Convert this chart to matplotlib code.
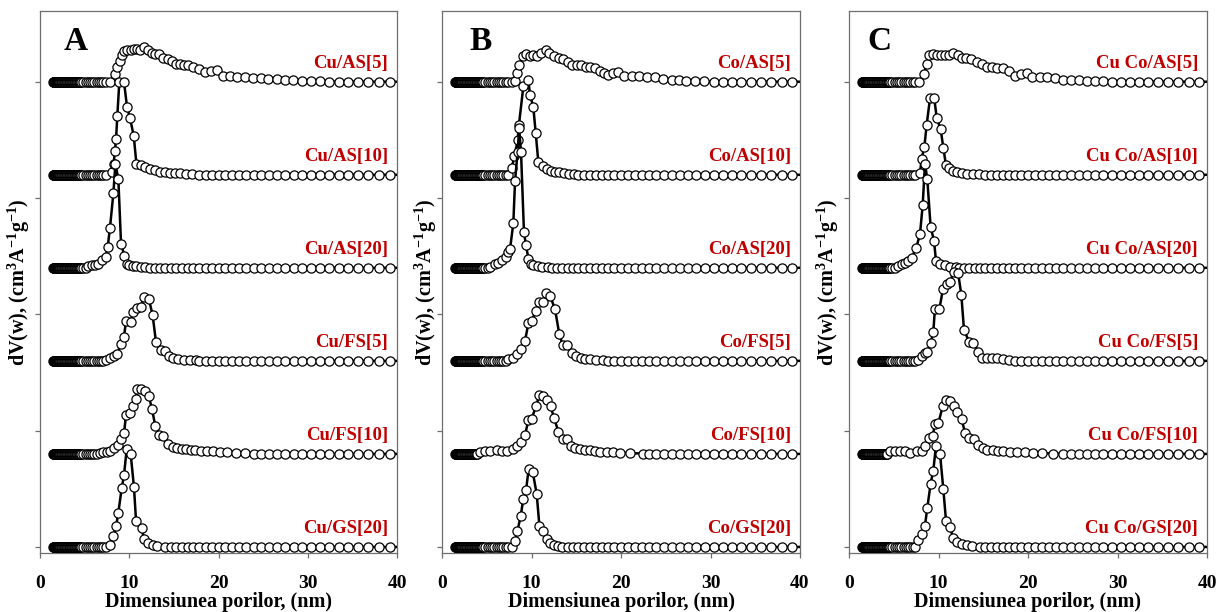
import matplotlib
matplotlib.use("Agg")
import matplotlib.pyplot as plt

plt.rcParams['font.family'] = ['Liberation Serif', 'DejaVu Serif']
plt.rcParams['font.weight'] = 'bold'
plt.rcParams['mathtext.fontset'] = 'custom'
plt.rcParams['mathtext.rm'] = 'Liberation Serif:bold'
plt.rcParams['mathtext.it'] = 'Liberation Serif:bold'
plt.rcParams['mathtext.bf'] = 'Liberation Serif:bold'

# ---------------- data ----------------
# common pore-diameter grid (nm) used for the flat baseline parts
grid_x = [1.50, 1.52, 1.54, 1.56, 1.58, 1.60, 1.62, 1.64, 1.66, 1.68, 1.70, 1.72, 1.74, 1.76,
          1.78, 1.80, 1.82, 1.84, 1.86, 1.88, 1.90, 1.92, 1.94, 1.96, 1.98, 2.00, 2.02, 2.04,
          2.06, 2.08, 2.10, 2.12, 2.14, 2.16, 2.18, 2.20,
          2.28, 2.36, 2.44, 2.52, 2.60, 2.68, 2.76, 2.84, 2.92, 3.00, 3.08, 3.16, 3.24, 3.32,
          3.40, 3.48, 3.56, 3.64, 3.72, 3.80, 3.88, 3.96, 4.04, 4.12, 4.20, 4.28, 4.36, 4.44,
          4.52, 4.60,
          4.85, 5.10, 5.35, 5.60, 5.85, 6.10, 6.35, 6.60, 6.85, 7.10,
          7.43, 7.87, 8.32, 8.78, 9.25, 9.73, 10.22, 10.73, 11.25, 11.78,
          12.32, 12.88, 13.45, 14.04, 14.64, 15.25, 15.88, 16.53, 17.19,
          17.87, 18.56, 19.27, 20.00, 20.75, 21.52, 22.31, 23.12, 23.95,
          24.80, 25.67, 26.56, 27.47, 28.41, 29.37, 30.35, 31.36, 32.39,
          33.45, 34.54, 35.65, 36.79, 37.96, 39.16, 41.00]

panel_letters = ["A", "B", "C"]
labels_A = ["Cu/AS[5]", "Cu/AS[10]", "Cu/AS[20]", "Cu/FS[5]", "Cu/FS[10]", "Cu/GS[20]"]
labels_B = ["Co/AS[5]", "Co/AS[10]", "Co/AS[20]", "Co/FS[5]", "Co/FS[10]", "Co/GS[20]"]
labels_C = ["Cu Co/AS[5]", "Cu Co/AS[10]", "Cu Co/AS[20]", "Cu Co/FS[5]", "Cu Co/FS[10]", "Cu Co/GS[20]"]
offsets = [5, 4, 3, 2, 1, 0]
y_ticks = [0, 1.25, 2.5, 3.75, 5]
x_ticks = [0, 10, 20, 30, 40]

# ---- panel A (peak regions) ----
A_AS5_x = [8.40, 8.66, 8.96, 9.15, 9.41, 9.71, 10.16, 10.53, 10.91, 11.20, 11.65, 12.06, 12.51, 12.92,
           13.37, 13.82, 14.30, 14.75, 15.24, 15.72, 16.17, 16.62, 17.18, 17.85, 18.49, 19.16, 19.83,
           20.47, 21.29, 22.11, 22.97, 23.83, 24.72, 25.58, 26.52, 27.45, 28.39, 29.35, 30.33, 31.34]
A_AS5_y = [0.08, 0.16, 0.22, 0.29, 0.33, 0.34, 0.34, 0.35, 0.35, 0.34, 0.37, 0.34, 0.31, 0.30,
           0.30, 0.26, 0.24, 0.22, 0.19, 0.19, 0.18, 0.18, 0.16, 0.14, 0.10, 0.12, 0.125,
           0.065, 0.057, 0.054, 0.047, 0.036, 0.036, 0.029, 0.025, 0.020, 0.018, 0.012, 0.008, 0.004]
A_AS10_x = [8.05, 8.25, 8.40, 8.52, 8.66, 8.89, 9.41, 9.75, 10.08, 10.50, 10.80, 11.28, 11.76, 12.32,
            12.89, 13.45, 14.00, 14.57, 15.10, 15.70, 16.35, 17.00]
A_AS10_y = [0.03, 0.12, 0.26, 0.38, 0.63, 1.00, 1.00, 0.73, 0.61, 0.42, 0.12, 0.10, 0.083, 0.057,
            0.046, 0.035, 0.028, 0.020, 0.018, 0.014, 0.010, 0.006]
A_AS20_x = [5.40, 5.80, 6.20, 6.54, 6.91, 7.36, 7.58, 7.84, 8.22, 8.45, 8.78, 9.08, 9.45, 9.71,
            10.00, 10.40, 10.80, 11.30, 11.80]
A_AS20_y = [0.02, 0.03, 0.035, 0.04, 0.08, 0.115, 0.22, 0.43, 0.80, 1.12, 0.95, 0.26, 0.13, 0.04,
            0.025, 0.02, 0.015, 0.01, 0.006]
A_FS5_x = [7.40, 7.84, 8.29, 8.66, 9.04, 9.41, 9.64, 10.16, 10.46, 10.83, 11.28, 11.65, 12.20, 12.62,
           13.00, 13.52, 13.97, 14.50, 14.94, 15.50, 16.10, 16.80, 17.50]
A_FS5_y = [0.01, 0.03, 0.047, 0.075, 0.18, 0.26, 0.43, 0.42, 0.53, 0.57, 0.58, 0.69, 0.665, 0.49,
           0.20, 0.12, 0.11, 0.054, 0.03, 0.018, 0.012, 0.008, 0.004]
A_FS10_x = [6.72, 7.10, 7.47, 7.84, 8.29, 8.78, 9.04, 9.41, 9.64, 10.08, 10.46, 10.76, 10.90, 11.35,
            11.76, 12.20, 12.55, 12.92, 13.37, 13.82, 14.38, 14.86, 15.30, 15.87, 16.36, 16.90,
            17.40, 18.00, 18.70, 19.40, 20.20, 21.00, 22.00, 23.00]
A_FS10_y = [0.007, 0.018, 0.025, 0.036, 0.06, 0.097, 0.16, 0.22, 0.42, 0.44, 0.52, 0.59, 0.70, 0.70,
            0.68, 0.62, 0.48, 0.30, 0.20, 0.19, 0.11, 0.072, 0.065, 0.057, 0.05, 0.043,
            0.04, 0.036, 0.032, 0.029, 0.025, 0.02, 0.014, 0.008]
A_GS20_x = [7.84, 8.22, 8.52, 8.78, 9.15, 9.41, 9.71, 10.16, 10.53, 10.76, 11.39, 11.65, 12.14,
            12.62, 13.15]
A_GS20_y = [0.025, 0.115, 0.22, 0.37, 0.63, 0.77, 1.05, 1.00, 0.64, 0.28, 0.20, 0.09, 0.043,
            0.018, 0.007]

# ---- panel B ----
B_AS5_x = [8.16, 8.34, 8.64, 9.09, 9.39, 9.83, 10.20, 10.58, 11.02, 11.62, 12.00, 12.51, 13.03,
           13.56, 14.04, 14.56, 15.05, 15.53, 16.05, 16.53, 17.10, 17.65, 18.14, 18.60, 19.14,
           19.70, 20.30, 21.20, 22.00, 22.90, 23.80, 24.70, 25.70, 26.50, 27.30, 28.30, 29.30]
B_AS5_y = [0.007, 0.097, 0.18, 0.28, 0.30, 0.28, 0.29, 0.28, 0.31, 0.34, 0.31, 0.28, 0.26,
           0.24, 0.21, 0.18, 0.175, 0.175, 0.16, 0.16, 0.147, 0.12, 0.093, 0.068, 0.097,
           0.104, 0.057, 0.057, 0.057, 0.05, 0.05, 0.032, 0.02, 0.014, 0.01, 0.006, 0.003]
B_AS10_x = [7.78, 8.10, 8.45, 8.60, 9.09, 9.65, 9.83, 10.20, 10.47, 10.76, 11.32, 11.70, 12.14,
            12.63, 13.10, 13.63, 14.20, 14.80]
B_AS10_y = [0.07, 0.20, 0.37, 0.54, 0.95, 1.02, 0.86, 0.73, 0.45, 0.14, 0.09, 0.06, 0.043,
            0.032, 0.025, 0.018, 0.012, 0.006]
B_AS20_x = [5.36, 5.92, 6.29, 6.67, 7.15, 7.41, 7.60, 7.97, 8.16, 8.45, 8.62, 8.83, 9.16, 9.39,
            9.65, 9.90, 10.20, 10.70, 11.20, 11.80]
B_AS20_y = [0.007, 0.043, 0.047, 0.079, 0.115, 0.17, 0.20, 0.48, 0.93, 1.25, 1.50, 1.24, 0.38,
            0.24, 0.10, 0.043, 0.025, 0.018, 0.012, 0.006]
B_FS5_x = [7.41, 7.97, 8.42, 8.79, 9.27, 9.65, 10.02, 10.50, 10.87, 11.32, 11.62, 12.07, 12.63,
           13.10, 13.48, 13.93, 14.49, 14.97, 15.50, 16.00, 16.50, 17.20, 18.00]
B_FS5_y = [0.018, 0.036, 0.072, 0.125, 0.21, 0.405, 0.43, 0.54, 0.63, 0.63, 0.73, 0.70, 0.555,
           0.29, 0.17, 0.17, 0.082, 0.047, 0.032, 0.025, 0.018, 0.01, 0.005]
B_FS10_x = [4.25, 4.80, 5.36, 6.10, 6.67, 7.22, 7.97, 8.42, 8.79, 9.27, 9.65, 10.02, 10.50, 10.87,
            11.32, 11.77, 12.14, 12.51, 13.00, 13.48, 13.93, 14.38, 14.86, 15.42, 16.00, 16.50,
            17.10, 17.65, 18.40, 19.10, 19.90, 21.00, 22.50]
B_FS10_y = [0.025, 0.036, 0.036, 0.043, 0.036, 0.036, 0.054, 0.082, 0.13, 0.20, 0.36, 0.38, 0.51,
            0.63, 0.62, 0.58, 0.51, 0.39, 0.24, 0.16, 0.16, 0.082, 0.06, 0.054, 0.047, 0.04,
            0.032, 0.025, 0.02, 0.018, 0.014, 0.008, 0.004]
B_GS20_x = [8.16, 8.42, 8.79, 9.09, 9.39, 9.68, 10.13, 10.58, 10.88, 11.32, 11.70, 12.07, 12.51,
            13.00]
B_GS20_y = [0.06, 0.17, 0.33, 0.52, 0.61, 0.835, 0.81, 0.57, 0.23, 0.17, 0.082, 0.047, 0.025,
            0.014]

# ---- panel C ----
C_AS5_x = [8.38, 8.68, 8.98, 9.42, 9.80, 10.24, 10.73, 11.21, 11.66, 12.14, 12.59, 13.07, 13.60,
           14.26, 14.82, 15.38, 15.94, 16.50, 17.24, 17.90, 18.55, 19.18, 19.85, 20.50, 21.34,
           22.16, 23.00, 23.87, 24.77, 25.66, 26.56, 27.50, 28.40]
C_AS5_y = [0.086, 0.19, 0.29, 0.30, 0.29, 0.29, 0.29, 0.29, 0.31, 0.29, 0.26, 0.26, 0.24,
           0.21, 0.19, 0.16, 0.16, 0.15, 0.15, 0.115, 0.06, 0.086, 0.097, 0.05, 0.05,
           0.05, 0.043, 0.022, 0.022, 0.014, 0.01, 0.006, 0.003]
C_AS10_x = [7.93, 8.12, 8.42, 8.68, 9.05, 9.53, 9.80, 10.24, 10.54, 10.84, 11.21, 11.66, 12.10,
            12.59, 13.15, 13.80, 14.50]
C_AS10_y = [0.018, 0.17, 0.30, 0.54, 0.82, 0.82, 0.61, 0.49, 0.29, 0.10, 0.072, 0.043, 0.029,
            0.018, 0.011, 0.007, 0.004]
C_AS20_x = [5.51, 5.88, 6.26, 6.63, 7.00, 7.49, 7.93, 8.23, 8.49, 8.75, 9.12, 9.50, 9.72, 10.17,
            10.73, 11.30, 11.90]
C_AS20_y = [0.018, 0.036, 0.054, 0.072, 0.11, 0.21, 0.36, 0.67, 1.12, 0.95, 0.44, 0.29, 0.072,
            0.036, 0.025, 0.014, 0.007]
C_FS5_x = [7.75, 8.12, 8.49, 8.75, 9.12, 9.42, 9.60, 10.10, 10.50, 10.90, 11.28, 11.73, 12.20,
           12.55, 12.85, 13.45, 13.90, 14.45, 14.82, 15.38, 15.94, 16.50, 17.17, 17.84]
C_FS5_y = [0.01, 0.047, 0.082, 0.10, 0.19, 0.31, 0.56, 0.56, 0.77, 0.83, 0.85, 0.96, 0.94,
           0.71, 0.33, 0.20, 0.19, 0.10, 0.036, 0.036, 0.029, 0.029, 0.018, 0.007]
C_FS10_x = [4.58, 5.14, 5.70, 6.26, 6.82, 7.56, 8.12, 8.49, 8.98, 9.35, 9.60, 9.98, 10.47, 10.84,
            11.28, 11.73, 12.10, 12.59, 12.96, 13.41, 13.97, 14.45, 14.93, 15.46, 16.05, 16.69,
            17.24, 17.99, 18.73, 19.67, 20.60, 21.60, 22.80]
C_FS10_y = [0.029, 0.036, 0.036, 0.029, 0.01, 0.029, 0.036, 0.082, 0.17, 0.19, 0.32, 0.33, 0.51,
            0.58, 0.57, 0.52, 0.45, 0.37, 0.23, 0.17, 0.165, 0.093, 0.065, 0.047, 0.043, 0.036,
            0.029, 0.025, 0.022, 0.018, 0.014, 0.008, 0.004]
C_GS20_x = [7.75, 8.12, 8.49, 8.75, 9.12, 9.42, 9.72, 10.17, 10.54, 10.84, 11.28, 11.66, 12.10,
            12.59, 13.15, 13.70]
C_GS20_y = [0.08, 0.14, 0.23, 0.42, 0.68, 0.82, 1.09, 1.00, 0.62, 0.28, 0.21, 0.093, 0.057,
            0.036, 0.022, 0.014]

panels = [
    ("A", labels_A, [(A_AS5_x, A_AS5_y), (A_AS10_x, A_AS10_y), (A_AS20_x, A_AS20_y),
                     (A_FS5_x, A_FS5_y), (A_FS10_x, A_FS10_y), (A_GS20_x, A_GS20_y)]),
    ("B", labels_B, [(B_AS5_x, B_AS5_y), (B_AS10_x, B_AS10_y), (B_AS20_x, B_AS20_y),
                     (B_FS5_x, B_FS5_y), (B_FS10_x, B_FS10_y), (B_GS20_x, B_GS20_y)]),
    ("C", labels_C, [(C_AS5_x, C_AS5_y), (C_AS10_x, C_AS10_y), (C_AS20_x, C_AS20_y),
                     (C_FS5_x, C_FS5_y), (C_FS10_x, C_FS10_y), (C_GS20_x, C_GS20_y)]),
]


def assemble(fx, fy):
    lo, hi = fx[0], fx[-1]
    left = [x for x in grid_x if x < lo - 0.25]
    right = [x for x in grid_x if x > hi + 0.35]
    xs = left + list(fx) + right
    ys = [0.0] * len(left) + list(fy) + [0.0] * len(right)
    return xs, ys


# ---------------- figure ----------------
W, H = 1216, 612
fig = plt.figure(figsize=(W / 100, H / 100), dpi=100)

ax_left_px = [40, 442, 849]
ax_w_px = [357, 358, 358]
ax_top_px, ax_bot_px = 11, 553
letter_x = [0.065, 0.078, 0.052]
ylab_off_px = [21, 16, 21]
frame_col = '#6e6e6e'
red = '#c00000'

for i, (letter, labels, curves) in enumerate(panels):
    ax = fig.add_axes([ax_left_px[i] / W, 1 - ax_bot_px / H,
                       ax_w_px[i] / W, (ax_bot_px - ax_top_px) / H])
    for j, (fx, fy) in enumerate(curves):
        xs, ys = assemble(fx, fy)
        ax.plot(xs, [v + offsets[j] for v in ys], '-', color='black', lw=1.8,
                marker='o', ms=6.6, mfc='white', mec='black', mew=0.9,
                zorder=2 + j)
        ax.text(39.0, offsets[j] + 0.145, labels[j], color=red, fontsize=13.5,
                fontweight='bold', ha='right', va='baseline', zorder=10)
    ax.set_xlim(0, 40)
    ax.set_ylim(-0.065, 5.76)
    ax.set_xticks(x_ticks)
    ax.set_yticks(y_ticks)
    ax.set_yticklabels([])
    ax.tick_params(axis='x', direction='out', length=3.6, width=0.9, color=frame_col,
                   labelsize=14, pad=12)
    ax.tick_params(axis='y', direction='out', length=3.6, width=0.9, color=frame_col)
    for lab in ax.get_xticklabels():
        lab.set_fontweight('bold')
    for sp in ax.spines.values():
        sp.set_color(frame_col)
        sp.set_linewidth(0.9)
    ax.set_xlabel('Dimensiunea porilor, (nm)', fontsize=14.5, fontweight='bold', labelpad=0)
    ax.set_ylabel(r'dV(w), (cm$^{3}$A$^{-1}$g$^{-1}$)', fontsize=14.5, fontweight='bold')
    ax.yaxis.label.set_va('center')
    ax.yaxis.set_label_coords(-ylab_off_px[i] / ax_w_px[i], 0.5)
    ax.text(letter_x[i], 0.928, letter, transform=ax.transAxes, fontsize=24,
            fontweight='bold', ha='left', va='baseline')

fig.savefig('out.png', dpi=100)
